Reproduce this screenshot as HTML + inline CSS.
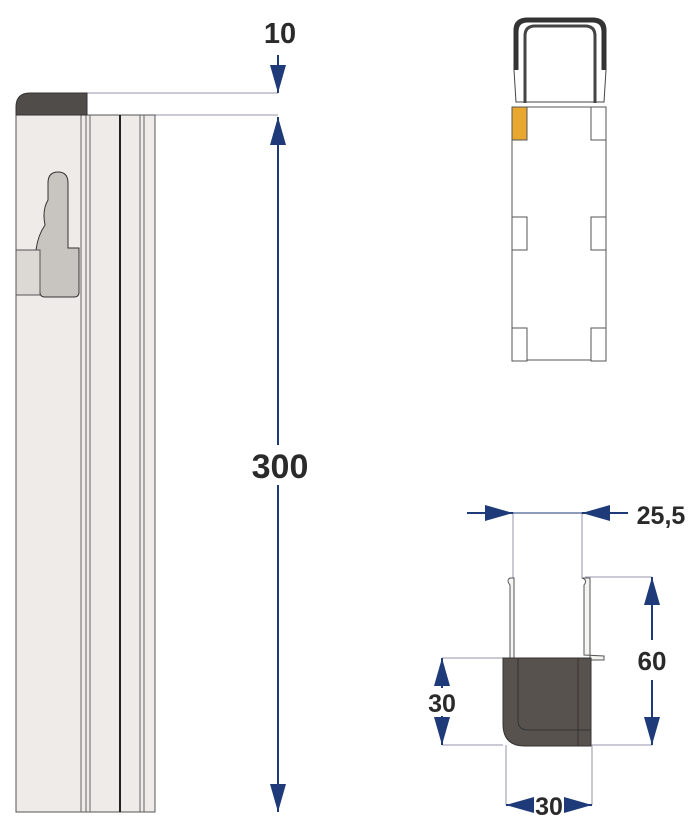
<!DOCTYPE html>
<html><head><style>body{margin:0;background:#fff}svg{display:block}text{font-family:"Liberation Sans",sans-serif;font-weight:bold;fill:#2a2a2a}</style></head><body>
<svg width="700" height="836" viewBox="0 0 700 836">
<defs>
<marker id="a" viewBox="0 0 28 16" refX="28" refY="8" markerWidth="28" markerHeight="16" markerUnits="userSpaceOnUse" orient="auto-start-reverse"><path d="M0,0L28,8L0,16z" fill="#1e3a78"/></marker>
</defs>
<g stroke="#b8b8c8" stroke-width="1.5" fill="none">
<path d="M87 93H278M155 115H278"/>
</g>
<rect x="16" y="115" width="139" height="697" fill="#efebe8" stroke="#555" stroke-width="1"/>
<g stroke="#666" stroke-width="1"><path d="M81 115V812M86 115V812M90 115V812M140 115V812M144 115V812"/></g>
<path d="M120 115V812" stroke="#222" stroke-width="2"/>
<path d="M16 115V107Q16 93 30 93H87V115Z" fill="#4f4c49" stroke="#333"/>
<path d="M48 183Q48 172 58 172Q68 172 68 183V248H79V292Q79 297 74 297H45Q40 297 40 292V250H36Q38 235 45 225Q42 210 48 200Z" fill="#c8c5c0" stroke="#333"/>
<rect x="16" y="250" width="24" height="45" fill="#dcd9d5" stroke="#555"/>
<g stroke="#1e3a78" stroke-width="2" fill="none">
<path d="M278 55V93" marker-end="url(#a)"/>
<path d="M278 445V117" marker-end="url(#a)"/>
<path d="M278 485V812" marker-end="url(#a)"/>
</g>
<text x="280" y="43" font-size="29" text-anchor="middle">10</text>
<text x="280" y="478" font-size="34" text-anchor="middle">300</text>
<!-- truck -->
<g stroke="#555" stroke-width="1" fill="#fff">
<rect x="512" y="107" width="94" height="253"/>
<rect x="512" y="107" width="15" height="33" fill="#e8a830"/>
<rect x="591" y="107" width="15" height="33"/><rect x="512" y="217" width="15" height="33"/><rect x="591" y="217" width="15" height="33"/><rect x="512" y="328" width="15" height="33"/><rect x="591" y="328" width="15" height="33"/>
</g>
<path d="M514 70V30Q514 18 528 18H592Q606 18 606 30V70 L604 102 H516Z" fill="#fff" stroke="#444"/>
<path d="M516 70V32Q516 20 528 20H592Q604 20 604 32V70" fill="none" stroke="#333" stroke-width="5"/>
<path d="M525 103V36Q525 26 535 26H585Q595 26 595 36V103" fill="none" stroke="#444" stroke-width="3"/>
<!-- bottom -->
<g stroke="#b8b8c8" stroke-width="1.5" fill="none">
<path d="M513 512V578M582 512V578M585 577H652M591 745H652M442 658H503M442 745H503M506 745V805M592 745V805"/>
</g>
<path d="M510 578Q506 580 510 585V658H514V578ZM582 578Q588 580 584 585V655L604 656V660H590V578Z" fill="#f4f4f2" stroke="#555"/>
<path d="M503 658H591V746H525Q503 746 503 724Z" fill="#57524e" stroke="#333"/>
<path d="M518 658V720Q518 730 528 730H591M578 658V746" stroke="#333" fill="none"/>
<g stroke="#1e3a78" stroke-width="2" fill="none">
<path d="M467 513H513" marker-end="url(#a)"/>
<path d="M628 513H582" marker-end="url(#a)"/>
<path d="M513 513H582" stroke-width="1"/>
<path d="M652 640V577" marker-end="url(#a)"/>
<path d="M652 680V745" marker-end="url(#a)"/>
<path d="M442 688V658" marker-end="url(#a)"/>
<path d="M442 716V745" marker-end="url(#a)"/>
<path d="M534 805H506" marker-end="url(#a)"/>
<path d="M564 805H592" marker-end="url(#a)"/>
</g>
<text x="661" y="524" font-size="25" text-anchor="middle">25,5</text>
<text x="652" y="670" font-size="26" text-anchor="middle">60</text>
<text x="442" y="712" font-size="25" text-anchor="middle">30</text>
<text x="549" y="815" font-size="25" text-anchor="middle">30</text>
</svg>
</body></html>
